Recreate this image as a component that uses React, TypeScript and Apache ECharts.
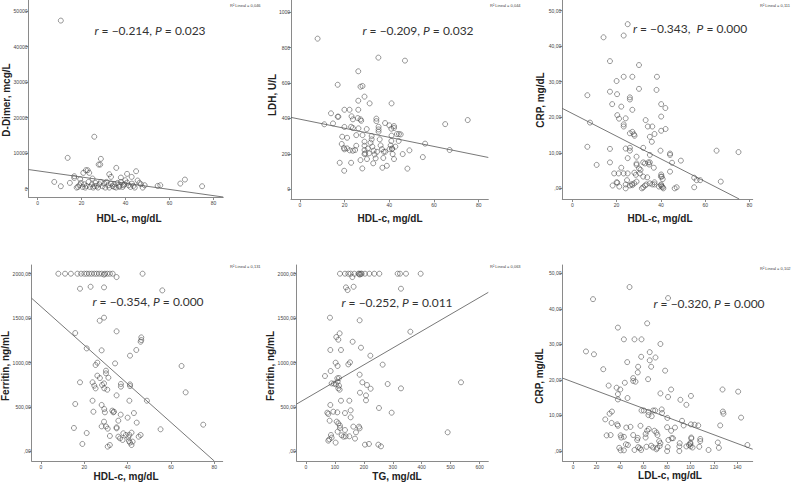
import React, { useEffect, useRef } from "react";
import * as echarts from "echarts";

// ---------- data ----------
const p1: number[][] = [
  [10.6, 47300], [13.7, 8650], [25.8, 14600], [28.8, 8370], [27.8, 6770], [28.5, 6770], [35.8, 5830], [44.8, 4890],
  [22.0, 5170], [22.8, 5170], [20.8, 4420], [23.5, 4420], [32.6, 4040], [16.7, 3480], [16.7, 3000], [25.0, 2820],
  [33.4, 3290], [37.9, 3100], [40.7, 4140], [42.8, 3290], [7.6, 1880], [14.7, 1600], [10.6, 660], [19.4, 2630],
  [45.5, 2260], [46.3, 1600], [47.0, 1220], [48.7, 940], [47.8, 280], [54.6, 750], [55.8, 940], [64.9, 1410],
  [67.0, 2540], [74.8, 660], [17.8, 280], [19.0, 940], [19.7, 1600], [20.5, 470], [21.2, 1220], [22.3, 750],
  [23.2, 1880], [23.8, 470], [24.7, 1220], [25.3, 280], [26.3, 1600], [26.9, 750], [27.5, 280], [28.1, 1220],
  [28.8, 1880], [29.6, 660], [30.3, 1410], [30.8, 280], [31.4, 1880], [32.2, 940], [32.6, 280], [33.4, 1410],
  [34.1, 660], [34.9, 1220], [35.7, 280], [36.4, 1600], [37.2, 750], [37.9, 1880], [38.7, 470], [39.5, 1220],
  [39.9, 2350], [40.7, 1690], [41.4, 940], [42.2, 470], [42.9, 1410], [43.6, 750], [44.2, 280], [39.0, 940],
  [37.2, 470], [34.9, 470], [25.8, 660], [21.7, 280], [18.4, 470]
];
const p2: number[][] = [
  [7.9, 850], [35.1, 743], [47.0, 726], [26.1, 666], [16.9, 590], [27.1, 579], [28.0, 583], [28.9, 523], [26.1, 500],
  [31.2, 485], [41.0, 485], [13.9, 429], [19.9, 449], [22.2, 449], [26.1, 449], [16.9, 410], [17.2, 410], [23.1, 412],
  [23.7, 395], [27.1, 395], [27.4, 387], [25.9, 402], [14.8, 372], [10.9, 367], [19.9, 352], [22.9, 353], [23.7, 346],
  [26.2, 344], [29.9, 340], [34.2, 399], [34.2, 385], [35.2, 353], [35.2, 338], [35.2, 325], [38.1, 374], [40.0, 361],
  [42.1, 357], [42.1, 346], [40.9, 342], [43.4, 312], [44.3, 312], [45.1, 310], [44.2, 273], [41.0, 303], [18.9, 297],
  [21.1, 291], [25.2, 306], [28.0, 306], [32.1, 301], [32.1, 282], [35.7, 282], [18.7, 256], [19.9, 226], [21.1, 231],
  [23.7, 218], [24.7, 222], [25.2, 246], [28.9, 269], [28.9, 246], [28.9, 222], [28.9, 199], [29.2, 203], [30.4, 231],
  [30.9, 203], [31.6, 263], [32.4, 241], [33.0, 218], [33.4, 197], [33.9, 175], [32.8, 147], [34.5, 212], [36.1, 248],
  [36.7, 227], [37.5, 212], [37.3, 177], [38.2, 212], [40.1, 227], [40.6, 248], [40.9, 273], [41.2, 227], [41.5, 199],
  [42.1, 171], [41.3, 231], [42.7, 241], [46.0, 199], [49.0, 220], [55.0, 182], [56.0, 258], [65.0, 368], [75.1, 391],
  [67.0, 222], [17.8, 150], [22.9, 150], [19.8, 105], [27.9, 118], [36.9, 122], [38.9, 133], [48.1, 117], [27.1, 165],
  [30.0, 171], [19.7, 233], [22.3, 220]
];
const p3: number[][] = [
  [25.0, 46.2], [14.1, 42.5], [23.2, 43.0], [17.0, 35.8], [30.1, 34.7], [23.2, 31.4], [27.1, 31.4], [38.2, 31.4],
  [20.0, 30.2], [17.0, 27.2], [20.2, 26.5], [6.8, 26.2], [26.0, 25.6], [26.0, 25.0], [30.1, 28.0], [38.0, 27.7],
  [18.0, 23.7], [22.1, 23.0], [27.1, 22.1], [40.1, 23.7], [42.0, 22.6], [20.3, 20.6], [21.1, 19.6], [24.1, 19.7],
  [33.1, 19.2], [40.1, 20.2], [8.0, 18.5], [23.2, 18.0], [23.2, 17.4], [34.1, 17.4], [36.1, 17.4], [27.1, 15.9],
  [27.8, 15.2], [28.1, 14.8], [26.0, 15.5], [37.1, 15.3], [35.0, 14.5], [42.1, 16.7], [40.1, 16.2], [35.9, 13.1],
  [6.8, 11.7], [17.0, 11.1], [24.1, 11.2], [26.0, 11.4], [26.0, 10.6], [32.0, 11.4], [35.0, 9.4], [39.8, 10.6],
  [44.1, 9.8], [44.1, 9.4], [25.0, 8.5], [29.0, 8.9], [17.0, 7.3], [11.0, 6.6], [22.1, 5.8], [45.0, 7.2], [49.0, 7.8],
  [65.1, 10.6], [75.0, 10.2], [29.0, 7.0], [29.0, 6.6], [32.0, 7.3], [32.8, 7.0], [34.3, 7.3], [34.7, 6.7], [35.0, 7.3],
  [36.8, 5.8], [30.1, 5.6], [30.8, 5.2], [30.5, 4.2], [18.9, 4.2], [20.9, 4.2], [23.2, 4.2], [25.0, 4.2], [28.0, 4.4],
  [28.7, 3.8], [32.0, 3.3], [33.8, 3.1], [44.1, 4.7], [40.1, 3.9], [40.4, 3.3], [40.8, 2.6], [40.0, 3.3], [55.0, 3.0],
  [56.1, 2.3], [57.7, 2.3], [67.0, 1.9], [20.0, 1.7], [20.3, 1.6], [18.2, 0.8], [24.7, 2.3], [24.1, 1.1], [26.0, 0.8],
  [26.9, 1.2], [28.0, 1.4], [29.0, 1.9], [31.4, 0.0], [32.0, 0.3], [32.8, 0.8], [33.5, 1.1], [35.0, 1.4], [36.1, 1.1],
  [37.1, 1.7], [37.1, 1.1], [39.1, 0.5], [40.0, 0.8], [40.1, 1.1], [40.4, 0.5], [40.8, 0.3], [41.1, 0.0], [46.2, 0.0],
  [47.1, 0.3], [55.0, 0.3], [24.1, 0.0], [27.1, 0.9], [21.2, 0.5]
];
const p4: number[][] = [
  [8.0, 2000], [11.1, 2000], [13.8, 2000], [16.8, 2000], [18.5, 2000], [20.0, 2000], [21.1, 2000], [22.2, 2000],
  [23.4, 2000], [24.6, 2000], [25.7, 2000], [26.8, 2000], [28.0, 2000], [29.5, 2000], [30.6, 2000], [31.8, 2000],
  [33.1, 2000], [46.9, 2000], [34.9, 1962], [29.1, 1990], [18.0, 1831], [22.9, 1853], [29.1, 1846], [56.0, 1812],
  [29.1, 1505], [27.1, 1471], [15.8, 1332], [34.9, 1351], [46.3, 1283], [46.3, 1253], [46.0, 1234], [21.1, 1159],
  [28.0, 1137], [44.0, 1141], [41.1, 1077], [34.2, 990], [26.0, 998], [25.2, 972], [64.9, 961], [30.0, 908], [30.0, 878],
  [26.0, 852], [27.2, 825], [31.1, 829], [18.0, 777], [23.8, 777], [24.6, 739], [25.2, 709], [28.2, 747], [29.1, 765],
  [29.2, 709], [30.6, 694], [36.9, 758], [36.9, 728], [41.1, 754], [41.1, 735], [66.8, 664], [34.9, 630], [40.8, 570],
  [23.8, 570], [48.9, 570], [15.8, 533], [28.0, 522], [29.2, 476], [29.5, 439], [24.2, 446], [32.9, 458], [33.4, 439],
  [33.7, 446], [36.8, 413], [40.0, 379], [42.9, 431], [35.7, 345], [29.1, 334], [44.2, 323], [28.0, 281], [30.0, 281],
  [30.8, 255], [34.9, 270], [34.9, 259], [15.2, 263], [55.2, 248], [74.9, 300], [38.0, 203], [39.2, 184], [40.8, 184],
  [40.3, 158], [46.0, 184], [45.1, 165], [41.8, 210], [42.3, 109], [35.7, 165], [36.5, 146], [37.7, 128], [31.8, 173],
  [21.1, 206], [40.6, 116], [41.1, 98], [41.8, 71], [19.1, 83], [30.8, 53], [31.8, 71]
];
const p5: number[][] = [
  [117.5, 2000], [134.8, 2000], [146.3, 2000], [154.4, 2000], [167.1, 2000], [180.9, 2000], [184.3, 2000], [190.1, 2000],
  [192.4, 2000], [203.9, 2000], [218.9, 2000], [236.1, 2000], [253.5, 2000], [316.8, 2000], [324.9, 2000], [345.6, 2000],
  [396.3, 2000], [160.1, 1962], [186.0, 1990], [138.2, 1846], [144.0, 1816], [164.7, 1853], [328.3, 1831], [82.9, 1505],
  [185.5, 1475], [360.6, 1347], [116.4, 1328], [104.8, 1287], [111.8, 1257], [161.3, 1234], [190.1, 1167], [84.1, 1141],
  [121.0, 1141], [222.4, 1077], [265.0, 976], [102.5, 998], [109.4, 961], [146.3, 979], [152.1, 1002], [65.7, 848],
  [85.3, 904], [108.3, 822], [114.1, 825], [185.5, 863], [194.7, 777], [210.8, 747], [223.5, 705], [282.3, 758],
  [328.3, 709], [535.7, 777], [88.7, 765], [96.8, 762], [103.7, 754], [109.4, 784], [114.1, 739], [111.8, 709],
  [116.4, 694], [207.4, 630], [186.6, 660], [84.1, 522], [73.7, 435], [77.2, 420], [94.5, 446], [108.3, 439],
  [134.8, 431], [154.4, 461], [207.4, 574], [149.8, 570], [121.0, 570], [154.4, 383], [252.3, 488], [296.1, 435],
  [81.8, 345], [106.0, 334], [111.8, 315], [117.5, 289], [117.5, 263], [109.4, 221], [134.8, 240], [163.6, 278],
  [183.2, 278], [185.5, 259], [172.8, 214], [123.3, 180], [130.1, 165], [137.1, 169], [149.8, 169], [169.4, 143],
  [80.6, 135], [77.2, 120], [102.5, 98], [203.9, 75], [217.7, 83], [250.0, 75], [259.2, 56], [489.6, 214], [86.4, 184],
  [88.7, 154]
];
const p6: number[][] = [
  [48.1, 46.1], [17.0, 42.7], [80.9, 43.0], [38.2, 34.7], [63.1, 35.9], [43.3, 31.4], [52.3, 31.4], [58.3, 31.4],
  [74.4, 30.1], [11.0, 28.0], [17.8, 27.2], [65.3, 27.8], [58.0, 26.5], [70.2, 26.3], [65.3, 25.5], [55.4, 23.7],
  [66.5, 23.7], [55.1, 22.1], [25.7, 23.0], [46.1, 25.0], [78.4, 22.6], [63.9, 20.2], [51.2, 20.5], [51.2, 19.7],
  [53.2, 19.5], [44.1, 19.2], [30.3, 18.4], [37.1, 17.8], [40.2, 17.3], [83.5, 17.3], [38.2, 16.0], [38.2, 14.5],
  [74.4, 16.2], [80.9, 15.2], [46.4, 14.9], [127.3, 17.3], [140.6, 16.7], [100.4, 15.5], [91.4, 14.4], [96.5, 13.0],
  [58.3, 11.4], [60.3, 11.4], [64.2, 11.0], [68.2, 11.4], [69.9, 11.4], [75.5, 11.7], [75.8, 10.7], [127.6, 11.1],
  [128.1, 10.5], [64.2, 10.1], [67.0, 9.8], [80.3, 9.3], [92.8, 8.5], [33.1, 11.1], [31.1, 10.5], [27.4, 8.9],
  [32.8, 7.9], [37.6, 7.5], [38.2, 7.1], [45.3, 6.6], [48.9, 6.8], [57.4, 7.1], [94.2, 7.2], [100.4, 7.5], [103.5, 7.4],
  [106.6, 7.2], [125.3, 7.2], [143.1, 9.4], [80.1, 6.7], [86.8, 6.6], [83.5, 5.7], [63.1, 5.7], [64.5, 6.2], [69.3, 5.7],
  [71.0, 5.2], [71.9, 4.5], [61.8, 4.8], [61.8, 3.8], [51.2, 4.5], [55.1, 3.7], [54.6, 3.1], [40.5, 4.4], [43.3, 4.0],
  [73.3, 2.8], [74.4, 2.2], [62.5, 1.2], [55.4, 1.1], [56.9, 0.8], [58.0, 0.3], [40.5, 0.2], [43.3, 0.2], [39.3, 0.9],
  [46.7, 1.7], [52.3, 0.3], [66.5, 1.5], [68.2, 1.0], [71.0, 0.5], [71.6, 0.9], [73.8, 1.4], [80.1, 0.0], [80.6, 1.1],
  [84.0, 3.6], [85.1, 3.6], [81.2, 3.1], [90.5, 1.3], [90.5, 0.0], [90.8, 2.2], [96.5, 1.3], [98.7, 1.7], [99.9, 2.3],
  [99.9, 2.0], [100.7, 3.8], [100.7, 3.5], [100.1, 1.3], [101.8, 1.0], [107.5, 1.2], [108.3, 3.4], [108.3, 2.8],
  [115.4, 0.3], [123.3, 2.4], [124.2, 0.9], [148.5, 1.7], [28.6, 4.4], [32.0, 4.5], [41.0, 3.8], [45.0, 1.9]
];

// fit lines (end points)
const fit1 = [[-4.1, 5360], [84.4, -2370]];
const fit2 = [[-4.0, 406], [84.3, 180]];
const fit3 = [[-4.5, 22.5], [75.3, -3.0]];
const fit4 = [[-4.3, 1723], [80.0, -109]];
const fit5 = [[-32, 533], [630, 1790]];
const fit6 = [[-9, 20.5], [153, 0.5]];

// ticks
const xTicksHDL = [0, 20, 40, 60, 80];
const xLabelsHDL = ["0", "20", "40", "60", "80"];
const xTicksTG = [0, 100, 200, 300, 400, 500, 600];
const xLabelsTG = ["0", "100", "200", "300", "400", "500", "600"];
const xTicksLDL = [0, 20, 40, 60, 80, 100, 120, 140];
const xLabelsLDL = ["0", "20", "40", "60", "80", "100", "120", "140"];
const yTicksDD = [0, 10000, 20000, 30000, 40000, 50000];
const yLabelsDD = ["0", "10000", "20000", "30000", "40000", "50000"];
const yTicksLDH = [0, 200, 400, 600, 800, 1000];
const yLabelsLDH = ["0", "200", "400", "600", "800", "1000"];
const yTicksCRP = [0, 10, 20, 30, 40, 50];
const yLabelsCRP = [",00", "10,00", "20,00", "30,00", "40,00", "50,00"];
const yTicksFer = [0, 500, 1000, 1500, 2000];
const yLabelsFer = [",00", "500,00", "1000,00", "1500,00", "2000,00"];

const statTexts = [
  "{i|r} = \u22120.214, {i|P} = 0.023",
  "{i|r} = \u22120.209, {i|P} = 0.032",
  "{i|r} = \u22120.343,  {i|P} = 0.000",
  "{i|r} = \u22120.354, {i|P} = 0.000",
  "{i|r} = \u22120.252, {i|P} = 0.011",
  "{i|r} = \u22120.320, {i|P} = 0.000",
];
const r2Texts = ["0,046", "0,044", "0,111", "0,131", "0,063", "0,102"];
const yTitles = ["D-Dimer, mcg/L", "LDH, U/L", "CRP, mg/dL", "Ferritin, ng/mL", "Ferritin, ng/mL", "CRP, mg/dL"];
const xTitles = ["HDL-c, mg/dL", "HDL-c, mg/dL", "HDL-c, mg/dL", "HDL-c, mg/dL", "TG, mg/dL", "LDL-c, mg/dL"];

// ---------- layout ----------
const panels = [
  { data: p1, fit: fit1, left: 28.5, top: 0, width: 194.7, height: 197, xMin: -4.1, xMax: 84.4, yMin: -2370, yMax: 53100, xt: xTicksHDL, xl: xLabelsHDL, yt: yTicksDD, yl: yLabelsDD, stat: [150, 30], r2: [230, 5], yTitle: [6, 100], xTitle: [129, 218] },
  { data: p2, fit: fit2, left: 291, top: 0, width: 197.3, height: 199.3, xMin: -4.0, xMax: 84.3, yMin: -56, yMax: 1068, xt: xTicksHDL, xl: xLabelsHDL, yt: yTicksLDH, yl: yLabelsLDH, stat: [418, 30], r2: [490, 5], yTitle: [272, 95], xTitle: [390, 218] },
  { data: p3, fit: fit3, left: 562.3, top: 0, width: 190.4, height: 199, xMin: -4.5, xMax: 81.4, yMin: -3, yMax: 53, xt: xTicksHDL, xl: xLabelsHDL, yt: yTicksCRP, yl: yLabelsCRP, stat: [690, 28], r2: [760, 5], yTitle: [540, 100], xTitle: [660, 218] },
  { data: p4, fit: fit4, left: 31.7, top: 265, width: 191, height: 196, xMin: -4.3, xMax: 83.9, yMin: -109, yMax: 2098, xt: xTicksHDL, xl: xLabelsHDL, yt: yTicksFer, yl: yLabelsFer, stat: [148, 301], r2: [230, 266], yTitle: [5, 366], xTitle: [126, 476] },
  { data: p5, fit: fit5, left: 296.7, top: 265, width: 191.6, height: 196, xMin: -32, xMax: 630, yMin: -109, yMax: 2098, xt: xTicksTG, xl: xLabelsTG, yt: yTicksFer, yl: yLabelsFer, stat: [397, 302], r2: [490, 266], yTitle: [270, 366], xTitle: [397, 476] },
  { data: p6, fit: fit6, left: 562.5, top: 265, width: 190.2, height: 196, xMin: -9, xMax: 153, yMin: -2.8, yMax: 52.3, xt: xTicksLDL, xl: xLabelsLDL, yt: yTicksCRP, yl: yLabelsCRP, stat: [709, 303], r2: [760, 268], yTitle: [539, 376], xTitle: [670, 475] },
];

const AXIS = "#8a8a8a";
const LABEL = "#444";

export default function App() {
  const ref = useRef<HTMLDivElement>(null);
  useEffect(() => {
    document.body.style.margin = "0";
    if (!ref.current) return;
    const chart = echarts.init(ref.current, null, { renderer: "svg" });
    const grid: any[] = [];
    const xAxis: any[] = [];
    const yAxis: any[] = [];
    const series: any[] = [];
    const graphic: any[] = [];
    panels.forEach((p, i) => {
      grid.push({ left: p.left, top: p.top, width: p.width, height: p.height, containLabel: false });
      xAxis.push({
        type: "value", gridIndex: i, min: p.xMin, max: p.xMax,
        splitLine: { show: false },
        axisLine: { onZero: false, lineStyle: { color: AXIS, width: 1 } },
        axisTick: { customValues: p.xt, length: 3, lineStyle: { color: AXIS } },
        axisLabel: {
          customValues: p.xt, fontSize: 5, color: LABEL, margin: 3, fontFamily: "Liberation Sans",
          formatter: (v: number) => p.xl[p.xt.indexOf(v)] ?? "",
        },
      });
      yAxis.push({
        type: "value", gridIndex: i, min: p.yMin, max: p.yMax,
        splitLine: { show: false },
        axisLine: { onZero: false, lineStyle: { color: AXIS, width: 1 } },
        axisTick: { customValues: p.yt, length: 3, lineStyle: { color: AXIS } },
        axisLabel: {
          customValues: p.yt, fontSize: 5, color: LABEL, margin: 1, fontFamily: "Liberation Sans",
          formatter: (v: number) => p.yl[p.yt.indexOf(v)] ?? "",
        },
      });
      series.push({
        type: "scatter", xAxisIndex: i, yAxisIndex: i, data: p.data, symbol: "circle", symbolSize: 5,
        itemStyle: { color: "rgba(255,255,255,0)", borderColor: "#444", borderWidth: 0.7 },
      });
      series.push({
        type: "line", xAxisIndex: i, yAxisIndex: i, data: p.fit, symbol: "none", clip: true,
        lineStyle: { color: "#555", width: 0.8 },
      });
      graphic.push({
        type: "text", x: p.stat[0], y: p.stat[1],
        style: {
          text: statTexts[i], fontSize: 12, fontFamily: "Lato", fill: "#333",
          align: "center", verticalAlign: "middle",
          rich: { i: { fontStyle: "italic", fontSize: 12, fontFamily: "Lato", fill: "#333" } },
        },
      });
      graphic.push({
        type: "text", x: p.r2[0], y: p.r2[1],
        style: { text: "R\u00B2 Lineal = " + r2Texts[i], fontSize: 4, fontFamily: "Liberation Sans", fill: "#444", align: "left", verticalAlign: "middle" },
      });
      graphic.push({
        type: "text", x: p.yTitle[0], y: p.yTitle[1], rotation: Math.PI / 2,
        style: { text: yTitles[i], fontSize: 10, fontWeight: "bold", fontFamily: "Liberation Sans", fill: "#222", align: "center", verticalAlign: "middle" },
      });
      graphic.push({
        type: "text", x: p.xTitle[0], y: p.xTitle[1],
        style: { text: xTitles[i], fontSize: 10, fontWeight: "bold", fontFamily: "Liberation Sans", fill: "#222", align: "center", verticalAlign: "middle" },
      });
    });
    chart.setOption({ animation: false, backgroundColor: "#fff", grid, xAxis, yAxis, series, graphic });
    return () => chart.dispose();
  }, []);
  return <div ref={ref} style={{ width: 797, height: 484 }} />;
}
